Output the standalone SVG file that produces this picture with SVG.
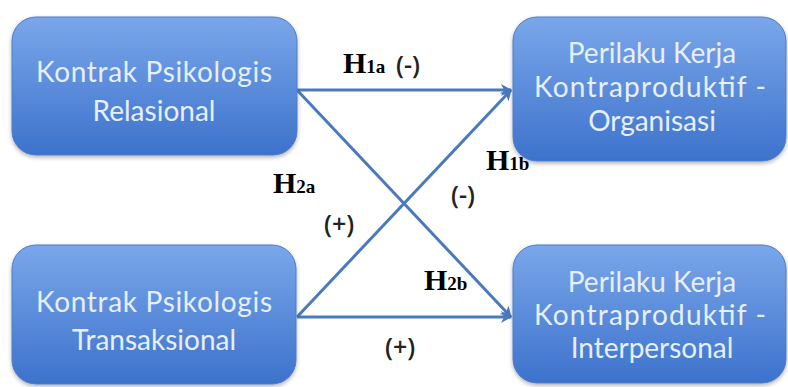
<svg xmlns="http://www.w3.org/2000/svg" width="788" height="387" viewBox="0 0 788 387">
<defs>
<linearGradient id="g" x1="0" y1="0" x2="0" y2="1">
<stop offset="0" stop-color="#7aa7ea"/>
<stop offset="1" stop-color="#3d72cc"/>
</linearGradient>
<filter id="sh" x="-10%" y="-10%" width="120%" height="130%">
<feDropShadow dx="0" dy="2" stdDeviation="2" flood-color="#000" flood-opacity="0.3"/>
</filter>
<marker id="ah" markerWidth="12" markerHeight="12" refX="10" refY="6" orient="auto" markerUnits="userSpaceOnUse">
<path d="M0,0 L11,6 L0,12 L3,6 Z" fill="#4a7abd"/>
</marker>
<style>
.box{fill:url(#g);stroke:#4a7cc8;stroke-width:1;filter:url(#sh)}
.bt{font-family:Lato,"Open Sans",sans-serif;font-size:28px;fill:#e6effb;text-anchor:middle}
.c{stroke:#4a7abd;stroke-width:3;fill:none;marker-end:url(#ah)}
.h{font-family:"Liberation Serif",serif;font-weight:bold;font-size:30px;fill:#000}
.hs{font-size:19px}
.s{font-family:"Open Sans","Noto Sans",sans-serif;font-size:25px;font-weight:600;fill:#222}
</style>
</defs>
<g id="connectors">
<line class="c" x1="297" y1="90" x2="511" y2="90"/>
<line class="c" x1="297" y1="90" x2="511" y2="317"/>
<line class="c" x1="297" y1="317" x2="511" y2="317"/>
<line class="c" x1="297" y1="317" x2="511" y2="90"/>
</g>
<g id="n1">
<rect class="box" x="12" y="17" width="285" height="138" rx="24"/>
<text class="bt" x="154" y="82" textLength="236" lengthAdjust="spacing">Kontrak Psikologis</text>
<text class="bt" x="154" y="121">Relasional</text>
</g>
<g id="n2">
<rect class="box" x="12" y="245" width="284" height="139" rx="24"/>
<text class="bt" x="154" y="312" textLength="236" lengthAdjust="spacing">Kontrak Psikologis</text>
<text class="bt" x="154" y="350">Transaksional</text>
</g>
<g id="n3">
<rect class="box" x="513" y="17" width="273" height="144" rx="24"/>
<text class="bt" x="652" y="63">Perilaku Kerja</text>
<text class="bt" x="650" y="97" textLength="232" lengthAdjust="spacing">Kontraproduktif -</text>
<text class="bt" x="652" y="131">Organisasi</text>
</g>
<g id="n4">
<rect class="box" x="513" y="245" width="273" height="138" rx="24"/>
<text class="bt" x="652" y="292">Perilaku Kerja</text>
<text class="bt" x="650" y="325" textLength="232" lengthAdjust="spacing">Kontraproduktif -</text>
<text class="bt" x="652" y="358">Interpersonal</text>
</g>
<g id="labels">
<text class="h" x="343" y="73">H<tspan class="hs">1a</tspan></text>
<text class="s" x="396" y="74">(-)</text>
<text class="h" x="486" y="170">H<tspan class="hs">1b</tspan></text>
<text class="s" x="451" y="204">(-)</text>
<text class="h" x="273" y="193">H<tspan class="hs">2a</tspan></text>
<text class="s" x="324" y="233">(+)</text>
<text class="h" x="424" y="290">H<tspan class="hs">2b</tspan></text>
<text class="s" x="385" y="356">(+)</text>
</g>
</svg>
